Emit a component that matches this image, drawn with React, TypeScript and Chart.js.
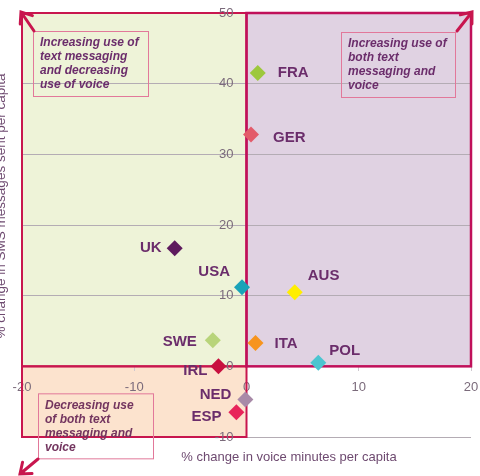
import { useEffect, useRef } from "react";
import { Chart, registerables } from "chart.js";

Chart.register(...registerables);

// Change in voice minutes (x) and SMS messages (y) per capita, by country
const countries = ["FRA", "GER", "UK", "USA", "AUS", "SWE", "ITA", "POL", "IRL", "NED", "ESP"];
const voiceChange = [1.0, 0.4, -6.4, -0.4, 4.3, -3.0, 0.8, 6.4, -2.5, -0.1, -0.9];
const smsChange = [41.5, 32.8, 16.7, 11.2, 10.5, 3.7, 3.3, 0.5, 0.0, -4.7, -6.5];
const pointColors = [
  "#9dc83c", "#e35b6a", "#5e1a5e", "#1aa3b8", "#ffee00", "#b8d47a",
  "#f7941d", "#4cc5d0", "#c8103f", "#a88aa8", "#e8245a",
];

// Label placement next to each diamond: [dx, dy, align]
const labelPlacement: [number, number, CanvasTextAlign][] = [
  [20, 0, "left"], [22, 3, "left"], [-13, 0, "right"], [-12, -15, "right"],
  [13, -16, "left"], [-16, 2, "right"], [19, 1, "left"], [11, -12, "left"],
  [-11, 5, "right"], [-14, -5, "right"], [-15, 5, "right"],
];

const X_MIN = -20, X_MAX = 20, Y_MIN = -10, Y_MAX = 50, STEP = 10;

const noteTopLeft = ["Increasing use of", "text messaging", "and decreasing", "use of voice"];
const noteTopRight = ["Increasing use of", "both text", "messaging and", "voice"];
const noteBottomLeft = ["Decreasing use", "of both text", "messaging and", "voice"];

const xTitle = "% change in voice minutes per capita";
const yTitle = "% change in SMS messages sent per capita";

const FONT = "'Liberation Sans', Arial, sans-serif";
const CRIMSON = "#c8164e";
const LABEL_PURPLE = "#6b2d6b";
const TITLE_PURPLE = "#6e4a70";
const TICK_GREY = "#7b6b7b";

function drawArrow(ctx: CanvasRenderingContext2D, tipX: number, tipY: number, fromX: number, fromY: number) {
  const ang = Math.atan2(fromY - tipY, fromX - tipX);
  const arm = 12;
  const spread = (38 * Math.PI) / 180;
  ctx.beginPath();
  ctx.moveTo(fromX, fromY);
  ctx.lineTo(tipX, tipY);
  ctx.moveTo(tipX + Math.cos(ang - spread) * arm, tipY + Math.sin(ang - spread) * arm);
  ctx.lineTo(tipX, tipY);
  ctx.lineTo(tipX + Math.cos(ang + spread) * arm, tipY + Math.sin(ang + spread) * arm);
  ctx.stroke();
}

function drawNote(ctx: CanvasRenderingContext2D, lines: string[], left: number, top: number, w: number, h: number, color: string) {
  ctx.save();
  ctx.strokeStyle = "#e2789a";
  ctx.lineWidth = 1;
  ctx.strokeRect(left + 0.5, top + 0.5, w, h);
  ctx.fillStyle = color;
  ctx.font = `italic bold 12px ${FONT}`;
  ctx.textAlign = "left";
  ctx.textBaseline = "middle";
  lines.forEach((line, i) => ctx.fillText(line, left + 7, top + 12 + i * 14));
  ctx.restore();
}

// Centred axes should not reserve any room or label overflow in the layout
const noLayoutSpace = (horizontal: boolean) => (s: any) => {
  if (horizontal) s.height = 0; else s.width = 0;
  s.paddingLeft = 0;
  s.paddingRight = 0;
  s.paddingTop = 0;
  s.paddingBottom = 0;
};

const quadrantPlugin = {
  id: "quadrants",
  beforeDraw(chart: any) {
    const { ctx, scales } = chart;
    const x = scales.x, y = scales.y;
    const xL = x.getPixelForValue(X_MIN), x0 = x.getPixelForValue(0), xR = x.getPixelForValue(X_MAX);
    const yT = y.getPixelForValue(Y_MAX), y0 = y.getPixelForValue(0), yB = y.getPixelForValue(Y_MIN);
    ctx.save();
    ctx.fillStyle = "#eef3d8";
    ctx.fillRect(xL, yT, x0 - xL, y0 - yT);
    ctx.fillStyle = "#e0d2e2";
    ctx.fillRect(x0, yT, xR - x0, y0 - yT);
    ctx.fillStyle = "#fce3ce";
    ctx.fillRect(xL, y0, x0 - xL, yB - y0);
    ctx.restore();
  },
  beforeDatasetsDraw(chart: any) {
    const { ctx, scales } = chart;
    const x = scales.x, y = scales.y;
    const xL = x.getPixelForValue(X_MIN), x0 = x.getPixelForValue(0), xR = x.getPixelForValue(X_MAX);
    const yT = y.getPixelForValue(Y_MAX), y0 = y.getPixelForValue(0), yB = y.getPixelForValue(Y_MIN);
    ctx.save();
    ctx.strokeStyle = CRIMSON;
    ctx.lineWidth = 2;
    ctx.strokeRect(xL, yT, x0 - xL, y0 - yT);
    ctx.strokeRect(xL, y0, x0 - xL, yB - y0);
    ctx.lineWidth = 2.5;
    ctx.strokeStyle = "#c0105a";
    ctx.strokeRect(x0, yT, xR - x0, y0 - yT);

    // y tick labels, right-aligned just left of the centred y axis
    ctx.fillStyle = TICK_GREY;
    ctx.font = `13px ${FONT}`;
    ctx.textAlign = "right";
    ctx.textBaseline = "middle";
    y.ticks.forEach((t: any) => ctx.fillText(String(t.value), x0 - 13, y.getPixelForValue(t.value)));

    drawNote(ctx, noteTopLeft, xL + 11, yT + 18, 115, 65, LABEL_PURPLE);
    drawNote(ctx, noteTopRight, xR - 130, yT + 19, 114, 65, LABEL_PURPLE);
    drawNote(ctx, noteBottomLeft, xL + 16, y0 + 27, 115, 65, "#73355f");

    ctx.strokeStyle = CRIMSON;
    ctx.lineWidth = 3;
    ctx.lineCap = "round";
    drawArrow(ctx, xL - 1, yT - 1, xL + 12, yT + 18);
    drawArrow(ctx, xR + 1, yT - 1, xR - 14, yT + 18);
    drawArrow(ctx, xL - 2, yB + 37, xL + 16, yB + 22);
    ctx.restore();
  },
  afterDatasetsDraw(chart: any) {
    const { ctx } = chart;
    const meta = chart.getDatasetMeta(0);
    ctx.save();
    ctx.font = `bold 15px ${FONT}`;
    ctx.fillStyle = LABEL_PURPLE;
    ctx.textBaseline = "middle";
    meta.data.forEach((pt: any, i: number) => {
      const [dx, dy, align] = labelPlacement[i];
      ctx.textAlign = align;
      ctx.fillText(countries[i], pt.x + dx, pt.y + dy);
    });
    ctx.restore();
  },
  afterDraw(chart: any) {
    const { ctx, chartArea } = chart;
    ctx.save();
    ctx.fillStyle = TITLE_PURPLE;
    ctx.font = `13px ${FONT}`;
    ctx.textAlign = "center";
    ctx.textBaseline = "middle";
    ctx.fillText(xTitle, chartArea.left + 267, chartArea.bottom + 20);
    ctx.translate(1, chartArea.top + 193);
    ctx.rotate(-Math.PI / 2);
    ctx.font = `13.5px ${FONT}`;
    ctx.fillText(yTitle, 0, 0);
    ctx.restore();
  },
};

export default function App() {
  const canvasRef = useRef<HTMLCanvasElement>(null);

  useEffect(() => {
    if (!canvasRef.current) return;
    const chart = new Chart(canvasRef.current, {
      type: "scatter",
      data: {
        datasets: [
          {
            data: voiceChange.map((v, i) => ({ x: v, y: smsChange[i] })),
            backgroundColor: pointColors,
            borderWidth: 0,
            pointStyle: "rectRot",
            pointRadius: 8,
            pointHoverRadius: 8,
          },
        ],
      },
      options: {
        animation: false,
        responsive: true,
        maintainAspectRatio: false,
        layout: { padding: { left: 22, top: 13, right: 9, bottom: 39 } },
        plugins: { legend: { display: false }, tooltip: { enabled: false } },
        scales: {
          x: {
            type: "linear",
            min: X_MIN,
            max: X_MAX,
            position: { y: 0 } as any,
            ticks: { stepSize: STEP, color: TICK_GREY, font: { size: 13, family: FONT }, padding: 8 },
            grid: { drawOnChartArea: false, drawTicks: true, tickLength: 5, color: "#cfc8cf" },
            border: { display: false },
            afterFit: noLayoutSpace(true),
          },
          y: {
            type: "linear",
            min: Y_MIN,
            max: Y_MAX,
            position: { x: 0 } as any,
            ticks: { stepSize: STEP, display: false },
            grid: { drawTicks: false, color: "#b4acb4", lineWidth: 1 },
            border: { display: false },
            afterFit: noLayoutSpace(false),
          },
        },
      },
      plugins: [quadrantPlugin],
    });
    return () => chart.destroy();
  }, []);

  return (
    <div style={{ position: "absolute", left: 0, top: 0, width: 480, height: 476 }}>
      <canvas ref={canvasRef} />
    </div>
  );
}
